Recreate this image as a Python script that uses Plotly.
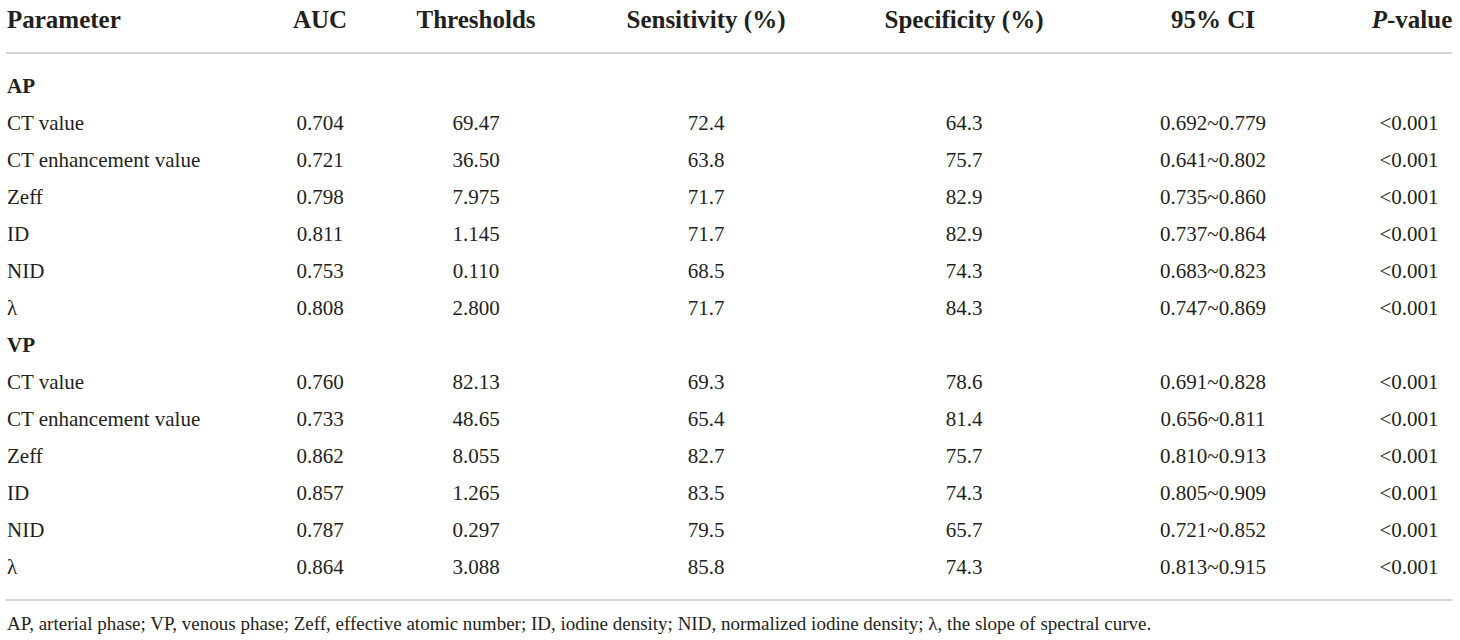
import plotly.graph_objects as go

# ROC results table: AP / VP parameters
headers = ["Parameter", "AUC", "Thresholds", "Sensitivity (%)", "Specificity (%)", "95% CI", "<i>P</i>-value"]

parameters = ["<b>AP</b>", "CT value", "CT enhancement value", "Zeff", "ID", "NID", "λ",
              "<b>VP</b>", "CT value", "CT enhancement value", "Zeff", "ID", "NID", "λ"]
auc = ["", "0.704", "0.721", "0.798", "0.811", "0.753", "0.808",
       "", "0.760", "0.733", "0.862", "0.857", "0.787", "0.864"]
thresholds = ["", "69.47", "36.50", "7.975", "1.145", "0.110", "2.800",
              "", "82.13", "48.65", "8.055", "1.265", "0.297", "3.088"]
sensitivity = ["", "72.4", "63.8", "71.7", "71.7", "68.5", "71.7",
               "", "69.3", "65.4", "82.7", "83.5", "79.5", "85.8"]
specificity = ["", "64.3", "75.7", "82.9", "82.9", "74.3", "84.3",
               "", "78.6", "81.4", "75.7", "74.3", "65.7", "74.3"]
ci95 = ["", "0.692~0.779", "0.641~0.802", "0.735~0.860", "0.737~0.864", "0.683~0.823", "0.747~0.869",
        "", "0.691~0.828", "0.656~0.811", "0.810~0.913", "0.805~0.909", "0.721~0.852", "0.813~0.915"]
pvalue = ["", "&lt;0.001", "&lt;0.001", "&lt;0.001", "&lt;0.001", "&lt;0.001", "&lt;0.001",
          "", "&lt;0.001", "&lt;0.001", "&lt;0.001", "&lt;0.001", "&lt;0.001", "&lt;0.001"]

footnote = ("AP, arterial phase; VP, venous phase; Zeff, effective atomic number; ID, iodine density; "
            "NID, normalized iodine density; λ, the slope of spectral curve.")

columns = [parameters, auc, thresholds, sensitivity, specificity, ci95, pvalue]

# layout: hidden axes in pixel units
W, H = 1460, 640
TXT = "#231f20"
RULE = "#c8c8c8"
FONT = "Liberation Serif"
col_x = [7, 320, 476, 706, 964, 1213, 1409]
header_x = [7, 320, 476, 706, 964, 1213, 1412]
header_y = 21.5
row0_y, row_step = 88, 37.0
foot_y = 625

row_y = [row0_y + i * row_step for i in range(len(parameters))]

fig = go.Figure()

for i, col in enumerate(columns):
    pos = "middle right" if i == 0 else "middle center"
    fig.add_trace(go.Scatter(
        x=[header_x[i]], y=[header_y], mode="text", text=["<b>" + headers[i] + "</b>"],
        textposition=pos, textfont=dict(family=FONT, size=25, color=TXT),
        cliponaxis=False, hoverinfo="skip", showlegend=False))
    fig.add_trace(go.Scatter(
        x=[col_x[i]] * len(col), y=row_y, mode="text", text=col,
        textposition=pos, textfont=dict(family=FONT, size=21, color=TXT),
        cliponaxis=False, hoverinfo="skip", showlegend=False))

# horizontal rules
for ypx in [53, 600]:
    fig.add_shape(type="line", xref="x", yref="y", x0=6, x1=1452, y0=ypx, y1=ypx,
                  line=dict(color=RULE, width=1.5))

fig.add_trace(go.Scatter(
    x=[7], y=[foot_y], mode="text", text=[footnote], textposition="middle right",
    textfont=dict(family=FONT, size=19, color=TXT), cliponaxis=False,
    hoverinfo="skip", showlegend=False))

fig.update_xaxes(range=[0, W], visible=False, fixedrange=True)
fig.update_yaxes(range=[H, 0], visible=False, fixedrange=True)
fig.update_layout(width=W, height=H, margin=dict(l=0, r=0, t=0, b=0),
                  paper_bgcolor="white", plot_bgcolor="white")

# drop the default page margin so the figure sits flush in the window
fig.write_html("out.html", config={"displayModeBar": False},
               post_script="document.body.style.margin='0';")
